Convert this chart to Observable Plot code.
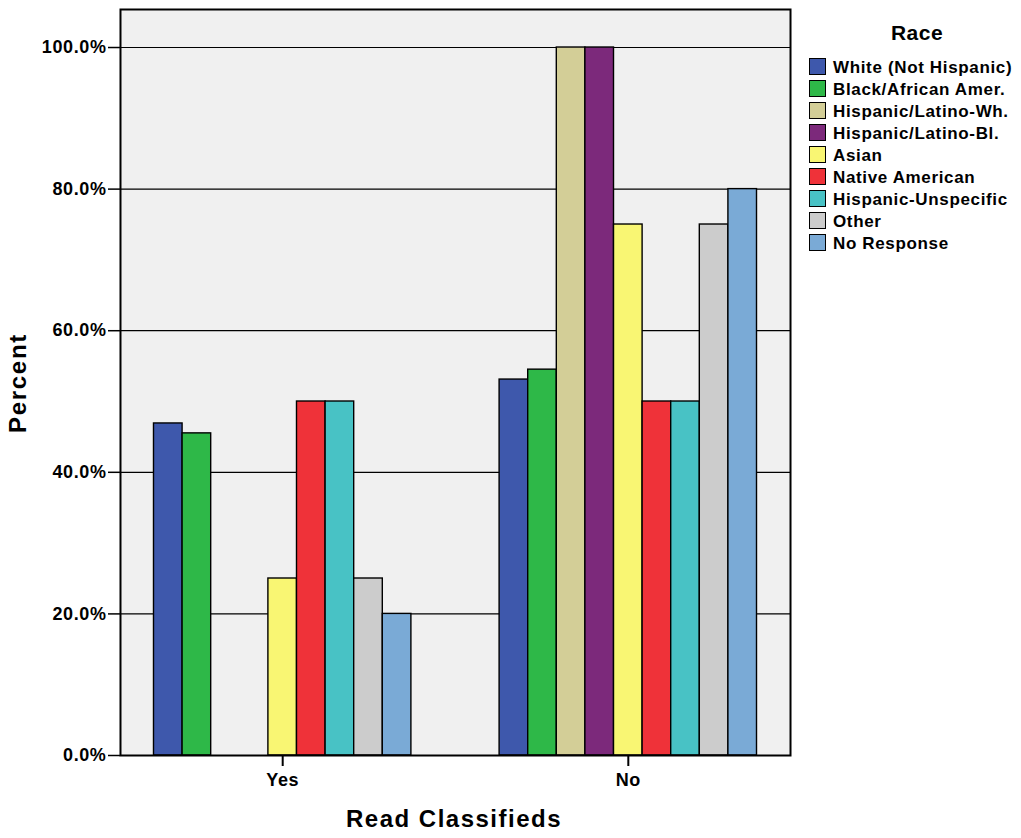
<!DOCTYPE html>
<html><head><meta charset="utf-8">
<script src="https://cdn.jsdelivr.net/npm/d3@7"></script>
<script src="https://cdn.jsdelivr.net/npm/@observablehq/plot@0.6"></script>
<style>
body{margin:0;background:#fff;font-family:"Liberation Sans",Arial,sans-serif;}
#wrap{position:relative;width:1021px;height:838px;overflow:hidden;}
#wrap svg text{letter-spacing:0.6px;}
.ttl{position:absolute;font-weight:bold;color:#000;white-space:nowrap;}
.leg{position:absolute;font-weight:bold;font-size:17px;letter-spacing:0.65px;white-space:nowrap;line-height:17px;}
.sw{position:absolute;width:15px;height:15px;border:1.5px solid #000;}
</style></head><body><div id="wrap"></div>
<script>
const groups = ["Yes", "No"];
const races = ["White (Not Hispanic)", "Black/African Amer.", "Hispanic/Latino-Wh.", "Hispanic/Latino-Bl.", "Asian", "Native American", "Hispanic-Unspecific", "Other", "No Response"];
const yesValues = [46.9, 45.5, 0, 0, 25, 50, 50, 25, 20];
const noValues = [53.1, 54.5, 100, 100, 75, 50, 50, 75, 80];
const raceColors = ["#3e58ac", "#2eb848", "#d3ce97", "#7c297b", "#f9f673", "#ef3239", "#48c2c5", "#cccccc", "#7aaad6"];
const yTicks = [0, 20, 40, 60, 80, 100];
const legendTitle = "Race";
const xTitle = "Read Classifieds";
const yTitle = "Percent";

const data = [];
races.forEach((r, i) => {
  data.push({group: "Yes", race: r, value: yesValues[i]});
  data.push({group: "No", race: r, value: noValues[i]});
});
const grid = groups.flatMap(g => yTicks.filter(v => v > 0).map(v => ({group: g, v})));

// facets overhang the frame slightly (negative outer padding) so the groups sit where the reference has them
const overhang = 10.6;

const chart = Plot.plot({
  width: 1021, height: 838,
  marginLeft: 120, marginRight: 231, marginTop: 9, marginBottom: 83,
  style: {fontFamily: '"Liberation Sans", Arial, sans-serif', fontSize: "18px", fontWeight: "bold", color: "#000", background: "transparent"},
  fx: {domain: groups, paddingInner: 0, paddingOuter: -0.0307, round: false, axis: null},
  x: {domain: races, paddingInner: 0, paddingOuter: 1.542, round: false, axis: null},
  y: {domain: [0, 105.37], axis: null},
  color: {domain: races, range: raceColors},
  marks: [
    Plot.frame({fill: "#f0f0f0", facet: "super", insetLeft: overhang, insetRight: overhang}),
    Plot.ruleY(grid.filter(d => d.group === "Yes"), {fx: "group", y: "v", stroke: "#000", strokeWidth: 1.2, insetLeft: overhang}),
    Plot.ruleY(grid.filter(d => d.group === "No"), {fx: "group", y: "v", stroke: "#000", strokeWidth: 1.2, insetRight: overhang}),
    Plot.barY(data.filter(d => d.value > 0), {fx: "group", x: "race", y: "value", fill: "race", stroke: "#000", strokeWidth: 1.4}),
    Plot.frame({stroke: "#000", strokeWidth: 2, facet: "super", insetLeft: overhang, insetRight: overhang}),
    Plot.axisY(yTicks, {dx: overhang, tickSize: 12, tickPadding: 2, tickFormat: d => d.toFixed(1) + "%", label: null, strokeWidth: 1.5}),
    Plot.axisFx({anchor: "bottom", tickSize: 11, tickPadding: 7, label: null, strokeWidth: 2})
  ]
});
const wrap = document.getElementById("wrap");
wrap.appendChild(chart);

function addDiv(cls, text, css) {
  const d = document.createElement("div");
  d.className = cls;
  if (text != null) d.textContent = text;
  Object.assign(d.style, css);
  wrap.appendChild(d);
  return d;
}
addDiv("ttl", yTitle, {left: "18px", top: "383px", fontSize: "24px", letterSpacing: "1.7px", transform: "translate(-50%,-50%) rotate(-90deg)"});
addDiv("ttl", xTitle, {left: "454px", top: "819px", fontSize: "24px", letterSpacing: "1.5px", transform: "translate(-50%,-50%)"});
addDiv("ttl", legendTitle, {left: "917px", top: "33px", fontSize: "21px", letterSpacing: "0.5px", transform: "translate(-50%,-50%)"});
races.forEach((r, i) => {
  const top = 57.5 + i * 22.1;
  addDiv("sw", null, {left: "809px", top: top + "px", background: raceColors[i]});
  addDiv("leg", r, {left: "833px", top: (top + 1) + "px"});
});
</script></body></html>
